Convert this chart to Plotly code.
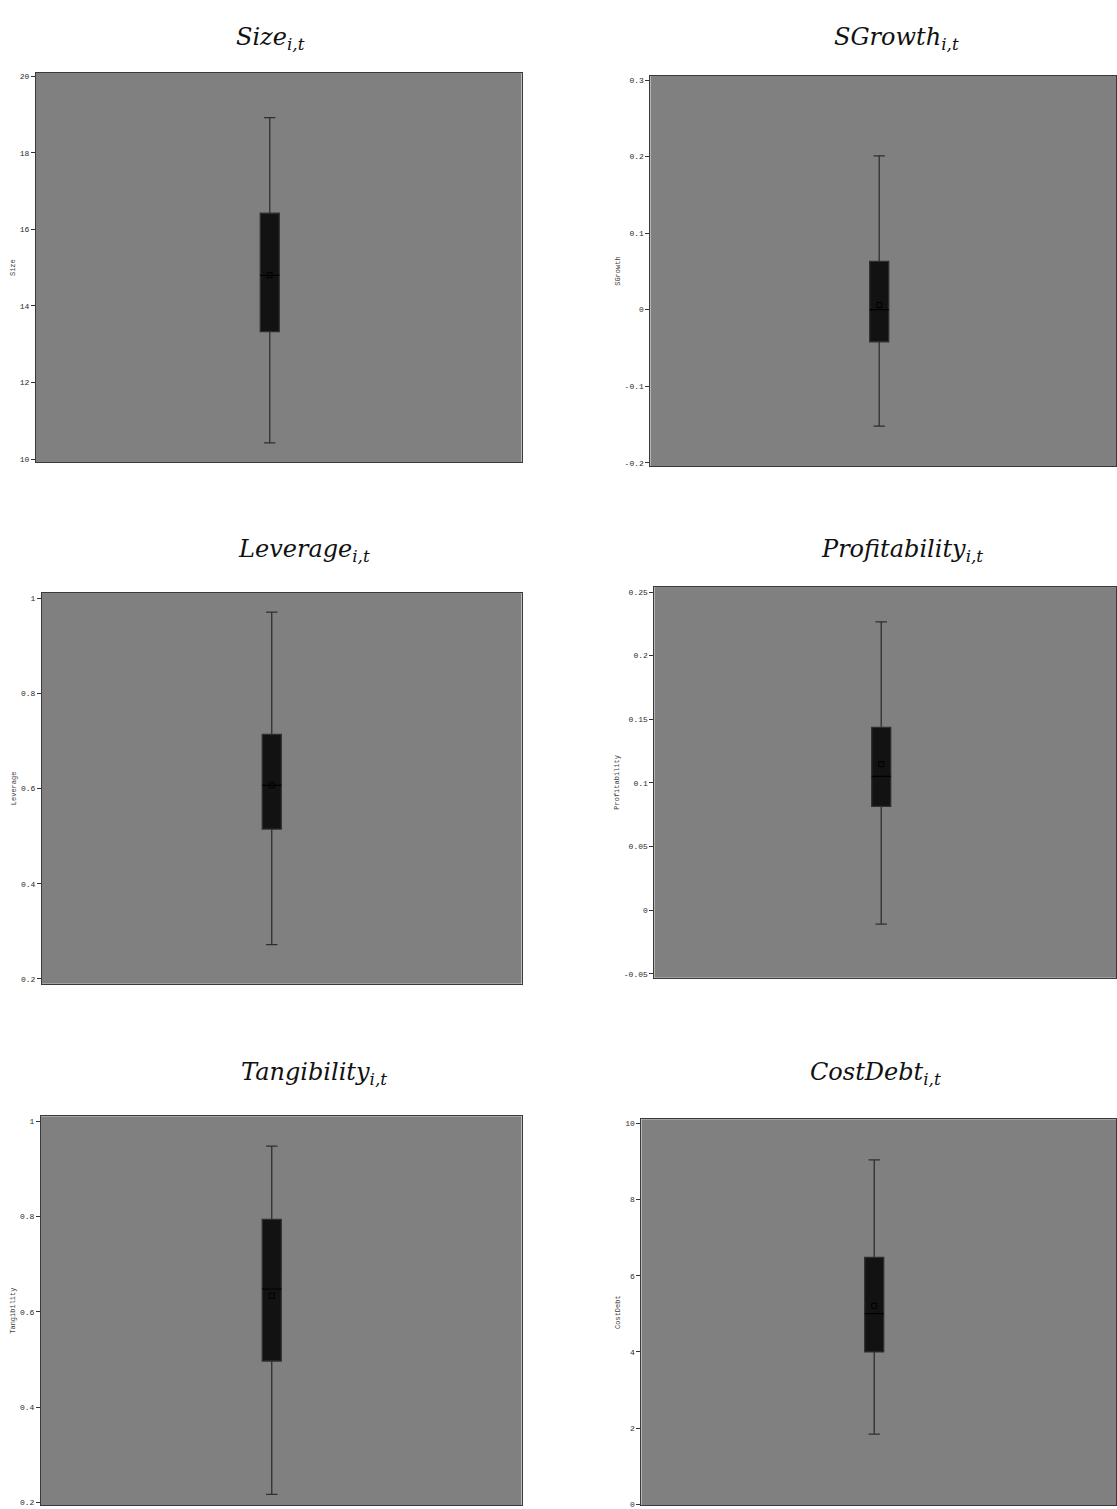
import plotly.graph_objects as go

# Summary statistics for each variable (box-and-whisker values)
variables = ["Size", "SGrowth", "Leverage", "Profitability", "Tangibility", "CostDebt"]
lower_whisker = [10.42, -0.152, 0.272, -0.011, 0.217, 1.84]
q1_values = [13.33, -0.042, 0.515, 0.0815, 0.497, 4.0]
median_values = [14.8, 0.0, 0.607, 0.105, 0.648, 5.0]
q3_values = [16.42, 0.063, 0.714, 0.1437, 0.794, 6.48]
upper_whisker = [18.92, 0.201, 0.971, 0.2265, 0.948, 9.04]
mean_values = [14.8, 0.006, 0.607, 0.1147, 0.634, 5.21]

# Axis ticks per panel
tick_values = [
    [10, 12, 14, 16, 18, 20],
    [-0.2, -0.1, 0, 0.1, 0.2, 0.3],
    [0.2, 0.4, 0.6, 0.8, 1],
    [-0.05, 0, 0.05, 0.1, 0.15, 0.2, 0.25],
    [0.2, 0.4, 0.6, 0.8, 1],
    [0, 2, 4, 6, 8, 10],
]
tick_labels = [
    ["10", "12", "14", "16", "18", "20"],
    ["-0.2", "-0.1", "0", "0.1", "0.2", "0.3"],
    ["0.2", "0.4", "0.6", "0.8", "1"],
    ["-0.05", "0", "0.05", "0.1", "0.15", "0.2", "0.25"],
    ["0.2", "0.4", "0.6", "0.8", "1"],
    ["0", "2", "4", "6", "8", "10"],
]
y_ranges = [
    [9.91, 20.09],
    [-0.2048, 0.3056],
    [0.190, 1.011],
    [-0.0531, 0.2539],
    [0.1948, 1.0105],
    [-0.018, 10.105],
]

W, H = 1117, 1509
# Panel frames in pixels: left, right, top, bottom, box centre x
frames = [
    (36, 522, 72, 463, 270),
    (651, 1117, 75, 467, 880),
    (42, 522, 594, 986, 272),
    (655, 1117, 588, 980, 882),
    (41, 522, 1119, 1509, 272),
    (642, 1117, 1122, 1509, 875),
]
# Title centres in pixels
title_pos = [(271, 38), (897, 38), (304, 551), (903, 551), (314, 1076), (876, 1076)]

BOX_PX = 19.0
fig = go.Figure()
layout_axes = {}
annotations = []

for i, name in enumerate(variables):
    left, right, top, bottom, cx = frames[i]
    n = "" if i == 0 else str(i + 1)
    xa, ya = "x" + n, "y" + n
    # x axis expressed in box-width units so the box sits at x=0
    x_lo = -(cx - left) / BOX_PX
    x_hi = (right - cx) / BOX_PX

    fig.add_trace(go.Box(
        x=[0],
        q1=[q1_values[i]], median=[median_values[i]], q3=[q3_values[i]],
        lowerfence=[lower_whisker[i]], upperfence=[upper_whisker[i]],
        width=1.0, whiskerwidth=0.6,
        fillcolor="#121212",
        line=dict(color="#2e2e2e", width=1.3),
        boxpoints=False,
        showlegend=False,
        xaxis=xa, yaxis=ya,
        hoverinfo="skip",
    ))
    # median drawn in solid black across the box
    fig.add_trace(go.Scatter(
        x=[-0.5, 0.5], y=[median_values[i], median_values[i]], mode="lines",
        line=dict(color="#000000", width=1.5),
        showlegend=False, xaxis=xa, yaxis=ya, hoverinfo="skip",
    ))
    # mean marker
    fig.add_trace(go.Scatter(
        x=[0], y=[mean_values[i]], mode="markers",
        marker=dict(symbol="square-open", size=5, color="#000000", line=dict(width=1)),
        showlegend=False, xaxis=xa, yaxis=ya, hoverinfo="skip",
    ))

    layout_axes["xaxis" + n] = dict(
        domain=[left / W, min(right / W, 1.0)],
        range=[x_lo, x_hi], anchor=ya,
        showticklabels=False, ticks="", showgrid=False, zeroline=False,
        showline=True, mirror=True, linecolor="#3a3a3a", linewidth=1,
    )
    layout_axes["yaxis" + n] = dict(
        domain=[max(1 - bottom / H, 0.0), 1 - top / H],
        range=y_ranges[i], anchor=xa,
        tickvals=tick_values[i], ticktext=tick_labels[i],
        ticks="outside", ticklen=4, tickwidth=1, tickcolor="#333333",
        tickfont=dict(family="Liberation Mono", size=8, color="#2a2a2a"),
        ticklabeloverflow="allow",
        showgrid=False, zeroline=False,
        showline=True, mirror=True, linecolor="#3a3a3a", linewidth=1,
        title=dict(text=name, font=dict(family="Liberation Mono", size=7, color="#3a3a3a"),
                   standoff=3),
    )

    tx, ty = title_pos[i]
    annotations.append(dict(
        text="<i>" + name + "</i><sub><i>i,t</i></sub>",
        x=tx / W, y=1 - ty / H, xref="paper", yref="paper",
        xanchor="center", yanchor="middle", showarrow=False,
        font=dict(family="DejaVu Serif", size=24, color="#111111"),
    ))

fig.update_layout(
    width=W, height=H,
    margin=dict(l=0, r=0, t=0, b=0),
    paper_bgcolor="#ffffff",
    plot_bgcolor="#808080",
    annotations=annotations,
    **layout_axes,
)

fig.write_html("out.html")
